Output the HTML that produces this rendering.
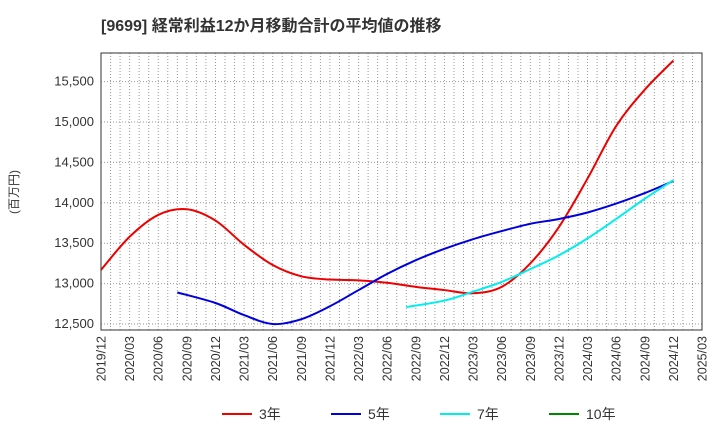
<!DOCTYPE html>
<html><head><meta charset="utf-8"><style>
body{margin:0;background:#fff;font-family:"Liberation Sans","Noto Sans CJK JP",sans-serif}
svg text{font-family:"Liberation Sans","Noto Sans CJK JP",sans-serif}
</style></head><body>
<svg id="c" width="720" height="440" xmlns="http://www.w3.org/2000/svg">
<text x="101" y="31" font-size="16" font-weight="bold" fill="#333">[9699]  経常利益12か月移動合計の平均値の推移</text>
<text transform="translate(18,192) rotate(-90)" font-size="12" fill="#333" text-anchor="middle">(百万円)</text>
<g id="grid"></g><g id="axes"></g><g id="series"></g>
<rect x="101" y="53" width="601" height="277" fill="none" stroke="#333" stroke-width="1"/>
<g id="legend"></g>
</svg>
<script>
const xTicks=["2019/12","2020/03","2020/06","2020/09","2020/12","2021/03","2021/06","2021/09","2021/12","2022/03","2022/06","2022/09","2022/12","2023/03","2023/06","2023/09","2023/12","2024/03","2024/06","2024/09","2024/12","2025/03"];
const yTicks=[12500,13000,13500,14000,14500,15000,15500];
const yTickLabels=["12,500","13,000","13,500","14,000","14,500","15,000","15,500"];
// month offsets from 2019/12
const m3=[0,3,6,9,12,15,18,21,24,27,30,33,36,39,42,45,48,51,54,57,60];
const v3=[13170,13580,13850,13920,13780,13480,13230,13090,13050,13040,13010,12960,12920,12880,12960,13250,13700,14300,14950,15400,15760];
const m5=[8,12,15,18,21,24,27,30,33,36,39,42,45,48,51,54,57,60];
const v5=[12890,12760,12610,12500,12560,12720,12920,13120,13290,13430,13550,13650,13740,13800,13880,13990,14120,14270];
const m7=[32,36,39,42,45,48,51,54,57,60];
const v7=[12710,12790,12900,13020,13180,13350,13560,13800,14050,14280];
const m10=[];const v10=[];
const L=101,R=702,T=53,B=330;
const X=m=>L+(R-L)*m/63;
const Y=v=>324-(v-12500)*(40.4/500);
const NS="http://www.w3.org/2000/svg";
function mk(t,a,p){const e=document.createElementNS(NS,t);for(const k in a)e.setAttribute(k,a[k]);p.appendChild(e);return e;}
const g=document.getElementById('grid'),ax=document.getElementById('axes'),s=document.getElementById('series'),lg=document.getElementById('legend');
for(let m=1;m<63;m++){const l=mk('line',{x1:X(m),x2:X(m),y1:T,y2:B,stroke:'#999','stroke-dasharray':'1,2'},g);

}
yTicks.forEach((v,i)=>{const l=mk('line',{x1:L,x2:R,y1:Y(v),y2:Y(v),stroke:'#999','stroke-dasharray':'1,2'},g);


const t=mk('text',{x:94,y:Y(v)+4,'font-size':13,fill:'#333','text-anchor':'end'},ax);t.textContent=yTickLabels[i];

});
xTicks.forEach((lab,i)=>{const x=X(i*3);const t=mk('text',{transform:`translate(${x+4.5},336) rotate(-90)`,'font-size':12.5,fill:'#333','text-anchor':'end'},ax);t.textContent=lab;

});
function path(ms,vs){const p=ms.map((m,i)=>[X(m),Y(vs[i])]);if(!p.length)return'';let d=`M${p[0][0]},${p[0][1]}`;
for(let i=0;i<p.length-1;i++){const p0=p[i-1]||p[i],p1=p[i],p2=p[i+1],p3=p[i+2]||p2;
d+=`C${p1[0]+(p2[0]-p0[0])/6},${p1[1]+(p2[1]-p0[1])/6} ${p2[0]-(p3[0]-p1[0])/6},${p2[1]-(p3[1]-p1[1])/6} ${p2[0]},${p2[1]}`;}return d;}
const ser=[[m3,v3,'#ee0000','3年','series-3y'],[m5,v5,'#0000dd','5年','series-5y'],[m7,v7,'#00eeee','7年','series-7y'],[m10,v10,'#008800','10年','series-10y']];
ser.forEach((S,i)=>{if(S[0].length){const p=mk('path',{d:path(S[0],S[1]),fill:'none',stroke:S[2],'stroke-width':2},s);

}
const lx=[222,331,440,549][i];
const e=mk('g',{},lg);


mk('line',{x1:lx,x2:lx+30,y1:414,y2:414,stroke:S[2],'stroke-width':2},e);
const t=mk('text',{x:lx+37,y:419,'font-size':14,fill:'#333'},e);t.textContent=S[3];});
</script>
</body></html>
